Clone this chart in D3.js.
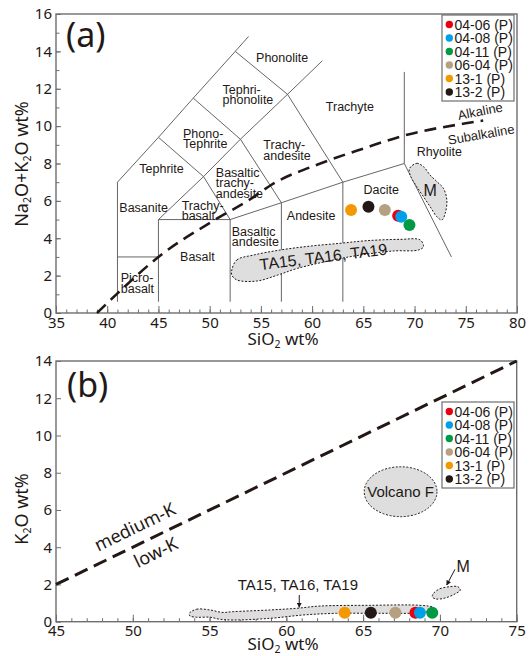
<!DOCTYPE html>
<html>
<head>
<meta charset="utf-8">
<script src="https://cdn.jsdelivr.net/npm/d3@7"></script>
<style>
  body { margin: 0; background: #fff; }
  svg { display: block; }
</style>
</head>
<body>
<div id="chart"></div>
<script>
// samples (legend order)
var sampleNames  = ["04-06 (P)", "04-08 (P)", "04-11 (P)", "06-04 (P)", "13-1 (P)", "13-2 (P)"]
var sampleColors = ["#e60012", "#00a0e9", "#009944", "#b5a081", "#f39800", "#231815"]
var sio2         = [68.4, 68.7, 69.5, 67.1, 63.8, 65.5]
var totalAlkali  = [5.21, 5.15, 4.71, 5.51, 5.51, 5.69]
var k2o          = [0.48, 0.48, 0.48, 0.48, 0.48, 0.48]

// axis ticks
var xTicksA = [35, 40, 45, 50, 55, 60, 65, 70, 75, 80]
var yTicksA = [0, 2, 4, 6, 8, 10, 12, 14, 16]
var xTicksB = [45, 50, 55, 60, 65, 70, 75]
var yTicksB = [0, 2, 4, 6, 8, 10, 12, 14]

// TAS field boundaries (SiO2, Na2O+K2O)
var tasBoundaries = [
  [[41, 0.6], [41, 7], [45, 9.4], [48.4, 11.5], [52.5, 14], [53.8, 14.8]],
  [[41, 3], [45, 3]],
  [[45, 0.6], [45, 5], [49.4, 7.3], [53, 9.3], [57.6, 11.7], [61, 13.5]],
  [[45, 5], [52, 5], [57, 5.9], [63, 7], [69, 8]],
  [[52, 0.6], [52, 5]],
  [[57, 0.6], [57, 5.9]],
  [[63, 0.6], [63, 7]],
  [[69, 12.9], [69, 8], [73.6, 3]],
  [[45, 9.4], [49.4, 7.3], [52, 5]],
  [[48.4, 11.5], [53, 9.3], [57, 5.9]],
  [[52.5, 14], [57.6, 11.7], [63, 7]]
]
// alkaline / subalkaline divide
var alkalineDivide = [[39, 0], [41, 1.05], [45, 3.0], [50.4, 4.95], [54, 6.1], [56, 6.85], [60.8, 8.0], [65, 8.8], [69, 9.5], [75, 10.15], [76.7, 10.3]]

var tasLabels = [
  {t: ["Phonolite"], x: 54.53, y: 13.64},
  {t: ["Tephri-", "phonolite"], x: 51.26, y: 11.68},
  {t: ["Phono-", "Tephrite"], x: 47.4, y: 9.34},
  {t: ["Tephrite"], x: 43.13, y: 7.74},
  {t: ["Basaltic", "trachy-", "andesite"], x: 50.6, y: 6.97},
  {t: ["Basanite"], x: 41.18, y: 5.66},
  {t: ["Trachy-", "basalt"], x: 47.27, y: 5.47},
  {t: ["Basalt"], x: 47.11, y: 3.01},
  {t: ["Picro-", "basalt"], x: 41.32, y: 1.59},
  {t: ["Basaltic", "andesite"], x: 52.16, y: 4.08},
  {t: ["Andesite"], x: 57.53, y: 5.21},
  {t: ["Dacite"], x: 65.01, y: 6.62},
  {t: ["Trachy-", "andesite"], x: 55.24, y: 8.72},
  {t: ["Trachyte"], x: 61.34, y: 11.04},
  {t: ["Rhyolite"], x: 70.22, y: 8.63}
]

// outlined comparison fields
var fieldMA = [[69.64, 7.83], [70.22, 8.01], [70.87, 7.83], [71.52, 7.38], [72.18, 7.03], [72.82, 6.67], [73.15, 6.05],
  [72.99, 5.33], [72.67, 4.98], [72.18, 5.15], [71.52, 5.69], [70.87, 6.22], [70.22, 6.76], [69.64, 7.29], [69.47, 7.65]]
var fieldTAA = [[52.16, 2.30], [52.65, 2.84], [54.27, 3.10], [56.88, 3.37], [59.80, 3.58], [62.73, 3.73], [65.34, 3.87],
  [68.59, 3.94], [70.55, 3.91], [70.87, 3.55], [70.38, 3.37], [67.94, 3.32], [64.69, 3.10], [62.08, 2.84],
  [58.59, 2.39], [56.64, 2.03], [54.60, 1.71], [52.65, 1.77], [52.16, 2.03]]
var fieldTAB = [[53.68, 0.45], [54.16, 0.67], [55.03, 0.63], [55.81, 0.50], [56.54, 0.54], [58.93, 0.63], [60.67, 0.72],
  [62.19, 0.84], [65.44, 0.88], [68.70, 0.88], [69.56, 0.77], [69.67, 0.63], [68.70, 0.48], [66.09, 0.45],
  [63.27, 0.45], [61.10, 0.36], [58.93, 0.18], [56.54, 0.09], [55.68, 0.13], [55.03, 0.24], [54.16, 0.24], [53.72, 0.31]]
var fieldMB = [[69.56, 1.50], [70.0, 1.77], [70.65, 1.88], [71.17, 1.88], [71.33, 1.70], [70.98, 1.49], [70.33, 1.27], [69.74, 1.22], [69.51, 1.33]]
var volcanoF = {cx: 67.44, cy: 6.98, rx: 2.37, ry: 1.34}
var kDivide = [[45, 2], [75, 14]]

var W = 531, H = 656
  , ink = "#231815"
  , frameCol = "#6e6e6e"
  , tickFont = "'Noto Sans', 'Open Sans', sans-serif"
  , labelFont = "'Liberation Sans', Arial, sans-serif"

var boxA = {left: 56, right: 517, top: 14, bottom: 313}
  , boxB = {left: 56, right: 516.7, top: 361, bottom: 621.7}

var xA = d3.scaleLinear().domain([35, 80]).range([boxA.left, boxA.right])
  , yA = d3.scaleLinear().domain([0, 16]).range([boxA.bottom, boxA.top])
  , xB = d3.scaleLinear().domain([45, 75]).range([boxB.left, boxB.right])
  , yB = d3.scaleLinear().domain([0, 14]).range([boxB.bottom, boxB.top])

var svg = d3.select("#chart").append("svg")
  .attr("width", W).attr("height", H)
  .style("background", "#fff")

var defs = svg.append("defs")
defs.append("marker").attr("id", "arrow")
  .attr("viewBox", "0 0 10 10").attr("refX", 9).attr("refY", 5)
  .attr("markerWidth", 5).attr("markerHeight", 5)
  .attr("markerUnits", "userSpaceOnUse").attr("orient", "auto")
 .append("path").attr("d", "M0,0L10,5L0,10z").attr("fill", ink)

function drawAxes(box, x, y, xMajor, yMajor, yMinorToo){
  var g = svg.append("g")
  var xd = x.domain(), yd = y.domain()
  var gx = g.append("g").attr("transform", "translate(0," + box.bottom + ")")
  gx.append("g").call(d3.axisBottom(x).tickValues(d3.range(xd[0], xd[1] + 1, 1)).tickSize(-3.5).tickFormat(""))
  gx.append("g").call(d3.axisBottom(x).tickValues(xMajor).tickSize(-7).tickPadding(4))
  var gy = g.append("g").attr("transform", "translate(" + box.left + ",0)")
  if (yMinorToo) {
    gy.append("g").call(d3.axisLeft(y).tickValues(d3.range(yd[0], yd[1] + 1, 1)).tickSize(-3.5).tickFormat(""))
  }
  gy.append("g").call(d3.axisLeft(y).tickValues(yMajor).tickSize(-5).tickPadding(4))
  g.selectAll(".domain").remove()
  g.selectAll(".tick line").attr("stroke", frameCol).attr("stroke-width", 1)
  g.selectAll(".tick text")
    .attr("font-family", tickFont).attr("font-size", 15).attr("fill", ink)
  g.append("rect")
    .attr("x", box.left).attr("y", box.top)
    .attr("width", box.right - box.left).attr("height", box.bottom - box.top)
    .attr("fill", "none").attr("stroke", frameCol).attr("stroke-width", 1.4)
}

// text with subscript parts: [["Na"],["2",1],...]
function richText(sel, parts){
  parts.forEach(function(p){
    if (p[1]) {
      sel.append("tspan").text(p[0]).attr("font-size", 10.5).attr("dy", 3.5)
    } else {
      sel.append("tspan").text(p[0]).attr("dy", sel.selectAll("tspan").size() ? -3.5 : 0)
    }
  })
}

function legend(x0, y0){
  var g = svg.append("g").attr("class", "legend")
  g.append("rect").attr("x", x0).attr("y", y0).attr("width", 72).attr("height", 86)
    .attr("fill", "#fff").attr("stroke", frameCol).attr("stroke-width", 1.2)
  var rows = g.selectAll(".row").data(d3.range(sampleNames.length)).enter().append("g")
    .attr("transform", function(i){ return "translate(" + x0 + "," + (y0 + 9.5 + i * 13.5) + ")" })
  rows.append("circle").attr("cx", 7.3).attr("r", 3.7).attr("fill", function(i){ return sampleColors[i] })
  rows.append("text").attr("x", 12.5).attr("dy", "0.36em")
    .attr("font-family", labelFont).attr("font-size", 14).attr("fill", ink)
    .text(function(i){ return sampleNames[i] })
}

function fieldPath(x, y){
  return d3.line().x(function(d){ return x(d[0]) }).y(function(d){ return y(d[1]) })
    .curve(d3.curveCatmullRomClosed.alpha(0.5))
}
function styleField(sel){
  sel.attr("fill", "#dedede").attr("stroke", ink).attr("stroke-width", 1).attr("stroke-dasharray", "2,1.6")
}

/* ---------- panel (a) ---------- */
drawAxes(boxA, xA, yA, xTicksA, yTicksA, true)

var lineA = d3.line().x(function(d){ return xA(d[0]) }).y(function(d){ return yA(d[1]) })
svg.append("g").selectAll("path").data(tasBoundaries).enter().append("path")
  .attr("d", lineA).attr("fill", "none").attr("stroke", "#555").attr("stroke-width", 0.9)

svg.append("path").datum(alkalineDivide)
  .attr("d", d3.line().x(function(d){ return xA(d[0]) }).y(function(d){ return yA(d[1]) }).curve(d3.curveMonotoneX))
  .attr("fill", "none").attr("stroke", ink).attr("stroke-width", 2.6).attr("stroke-dasharray", "12,7")

var lh = 10.5
var lab = svg.append("g").attr("font-family", labelFont).attr("font-size", 12.5).attr("fill", ink)
lab.selectAll("text").data(tasLabels).enter().append("text")
  .attr("x", function(d){ return xA(d.x) })
  .attr("y", function(d){ return yA(d.y) - (d.t.length - 1) * lh / 2 })
  .each(function(d){
    var t = d3.select(this)
    d.t.forEach(function(s, i){
      t.append("tspan").attr("x", xA(d.x)).attr("dy", i ? lh : 4.3).text(s)
    })
  })

lab.append("text").attr("text-anchor", "middle").attr("font-size", 13)
  .attr("transform", "translate(" + xA(76.41) + "," + yA(10.8) + ") rotate(-11)")
  .attr("dy", "0.35em").text("Alkaline")
lab.append("text").attr("text-anchor", "middle").attr("font-size", 13)
  .attr("transform", "translate(" + xA(76.5) + "," + yA(9.55) + ") rotate(-10)")
  .attr("dy", "0.35em").text("Subalkaline")

svg.append("path").datum(fieldTAA).attr("d", fieldPath(xA, yA)).call(styleField)
svg.append("path").datum(fieldMA).attr("d", fieldPath(xA, yA)).call(styleField)

var labF = svg.append("g").attr("font-family", labelFont).attr("fill", ink)
labF.append("text").attr("text-anchor", "middle").attr("font-size", 16)
  .attr("transform", "translate(" + xA(61.1) + "," + yA(3.01) + ") rotate(-7)")
  .attr("dy", "0.35em").text("TA15, TA16, TA19")
labF.append("text").attr("text-anchor", "middle").attr("font-size", 16)
  .attr("x", xA(71.52)).attr("y", yA(6.58)).attr("dy", "0.35em").text("M")

svg.append("g").selectAll("circle").data(d3.range(sio2.length)).enter().append("circle")
  .attr("cx", function(i){ return xA(sio2[i]) })
  .attr("cy", function(i){ return yA(totalAlkali[i]) })
  .attr("r", 6).attr("fill", function(i){ return sampleColors[i] })

legend(442, 15)

svg.append("text").attr("font-family", tickFont).attr("font-size", 34).attr("fill", ink)
  .attr("x", 66).attr("y", 47).text("(a)")

var tA = svg.append("text").attr("font-family", tickFont).attr("font-size", 18).attr("fill", ink)
  .attr("text-anchor", "middle").attr("transform", "translate(31,164) rotate(-90)")
richText(tA, [["Na"], ["2", 1], ["O+K"], ["2", 1], ["O wt%"]])
var sA = svg.append("text").attr("font-family", tickFont).attr("font-size", 17).attr("fill", ink)
  .attr("text-anchor", "middle").attr("x", 283).attr("y", 348)
richText(sA, [["SiO"], ["2", 1], [" wt%"]])

/* ---------- panel (b) ---------- */
drawAxes(boxB, xB, yB, xTicksB, yTicksB, false)

svg.append("path").datum(kDivide)
  .attr("d", d3.line().x(function(d){ return xB(d[0]) }).y(function(d){ return yB(d[1]) }))
  .attr("fill", "none").attr("stroke", ink).attr("stroke-width", 3).attr("stroke-dasharray", "14,7")

var labB = svg.append("g").attr("font-family", tickFont).attr("fill", ink)
var ang = -Math.atan((yB(2) - yB(14)) / (xB(75) - xB(45))) * 180 / Math.PI
labB.append("text").attr("text-anchor", "middle").attr("font-size", 18)
  .attr("transform", "translate(" + xB(50.14) + "," + yB(5.09) + ") rotate(" + ang + ")")
  .attr("dy", "0.35em").text("medium-K")
labB.append("text").attr("text-anchor", "middle").attr("font-size", 18)
  .attr("transform", "translate(" + xB(51.5) + "," + yB(3.72) + ") rotate(" + ang + ")")
  .attr("dy", "0.35em").text("low-K")

svg.append("ellipse")
  .attr("cx", xB(volcanoF.cx)).attr("cy", yB(volcanoF.cy))
  .attr("rx", xB(volcanoF.cx + volcanoF.rx) - xB(volcanoF.cx))
  .attr("ry", yB(volcanoF.cy) - yB(volcanoF.cy + volcanoF.ry))
  .call(styleField)
svg.append("path").datum(fieldTAB).attr("d", fieldPath(xB, yB)).call(styleField)
svg.append("path").datum(fieldMB).attr("d", fieldPath(xB, yB)).call(styleField)

var labB2 = svg.append("g").attr("font-family", labelFont).attr("fill", ink)
labB2.append("text").attr("text-anchor", "middle").attr("font-size", 15)
  .attr("x", xB(volcanoF.cx)).attr("y", yB(volcanoF.cy)).attr("dy", "0.35em").text("Volcano F")
labB2.append("text").attr("text-anchor", "middle").attr("font-size", 15)
  .attr("x", xB(60.75)).attr("y", yB(1.97)).attr("dy", "0.35em").text("TA15, TA16, TA19")
labB2.append("text").attr("text-anchor", "middle").attr("font-size", 16)
  .attr("x", xB(71.52)).attr("y", yB(2.95)).attr("dy", "0.35em").text("M")

var arrows = [[[60.84, 1.43], [60.84, 0.77]], [[70.98, 2.81], [70.44, 1.97]]]
svg.append("g").selectAll("path").data(arrows).enter().append("path")
  .attr("d", d3.line().x(function(d){ return xB(d[0]) }).y(function(d){ return yB(d[1]) }))
  .attr("fill", "none").attr("stroke", ink).attr("stroke-width", 1).attr("marker-end", "url(#arrow)")

svg.append("g").selectAll("circle").data(d3.range(sio2.length)).enter().append("circle")
  .attr("cx", function(i){ return xB(sio2[i]) })
  .attr("cy", function(i){ return yB(k2o[i]) })
  .attr("r", 6).attr("fill", function(i){ return sampleColors[i] })

legend(442, 402)

svg.append("text").attr("font-family", tickFont).attr("font-size", 34).attr("fill", ink)
  .attr("x", 67).attr("y", 397).text("(b)")

var tB = svg.append("text").attr("font-family", tickFont).attr("font-size", 18).attr("fill", ink)
  .attr("text-anchor", "middle").attr("transform", "translate(31,509) rotate(-90)")
richText(tB, [["K"], ["2", 1], ["O wt%"]])
var sB = svg.append("text").attr("font-family", tickFont).attr("font-size", 17).attr("fill", ink)
  .attr("text-anchor", "middle").attr("x", 283).attr("y", 653)
richText(sB, [["SiO"], ["2", 1], [" wt%"]])
</script>
</body>
</html>
